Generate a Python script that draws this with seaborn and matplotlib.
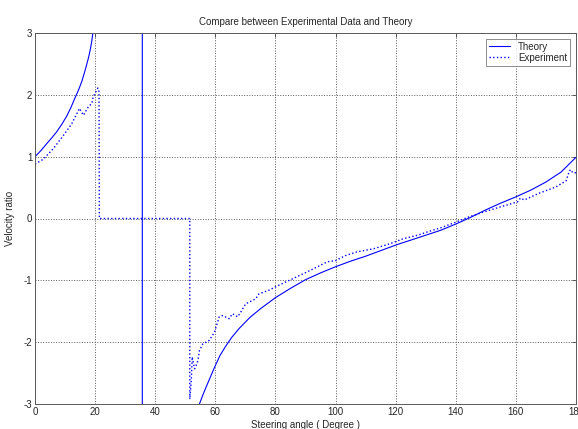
import matplotlib
matplotlib.use("Agg")
import matplotlib.pyplot as plt
import seaborn as sns
import pandas as pd

# Theory curve (passes through a pole near 35.7 degrees)
theory_x = [0, 2, 3.9, 5.5, 7.2, 9, 10.6, 12, 13.3, 14.5, 15.6, 16.4, 17.2, 17.8,
            18.3, 18.8, 19.2, 20.5, 25, 30, 35.7,
            35.7, 45, 50, 54.7, 55.8, 56.9, 58.3, 59.7, 61.5, 63.5, 65.5, 67.9,
            71.5, 75, 80, 85, 90, 95, 100, 105, 110, 115, 120, 125, 130, 135,
            140, 145, 150, 155, 160, 165, 170, 175, 180]
theory_y = [1.0, 1.1, 1.21, 1.30, 1.40, 1.53, 1.66, 1.80, 1.95, 2.08, 2.22, 2.35,
            2.49, 2.60, 2.71, 2.84, 2.98, 3.4, 5, 9, 60,
            -60, -6, -4, -3.0, -2.86, -2.73, -2.57, -2.41, -2.22, -2.06, -1.92,
            -1.78, -1.60, -1.46, -1.28, -1.13, -0.99, -0.88, -0.78, -0.69, -0.61,
            -0.52, -0.43, -0.35, -0.27, -0.19, -0.09, 0.02, 0.14, 0.25, 0.35,
            0.46, 0.59, 0.75, 0.99]

# Experimental data
exp_x = [0, 2.8, 6.1, 9.4, 12.2, 14.8, 16.1, 17.8, 18.9, 19.4, 20.9, 21.3, 21.4,
         51.5, 51.5, 52, 52.3, 53.1, 53.6, 54.2, 54.7, 55.8, 58, 59.7, 61.3, 62.4,
         64.6, 65.7, 67.4, 68.5, 70.1, 73.4, 74.5, 77.8, 81.1, 85.5, 90.7, 94,
         97.3, 100, 103.3, 107.1, 112.6, 118, 122.4, 127.3, 131, 135, 140, 144,
         148.3, 155, 160.6, 161.5, 162.8, 167.8, 173.3, 176.7, 177.8, 178.3,
         178.9, 180]
exp_y = [0.88, 0.96, 1.13, 1.34, 1.53, 1.78, 1.67, 1.81, 1.86, 1.97, 2.11, 2.05,
         0.0, 0.0, -2.92, -2.62, -2.24, -2.43, -2.38, -2.30, -2.14, -2.03, -1.97,
         -1.84, -1.59, -1.57, -1.62, -1.54, -1.59, -1.51, -1.38, -1.30, -1.22,
         -1.16, -1.08, -0.98, -0.86, -0.78, -0.70, -0.68, -0.60, -0.54, -0.49,
         -0.41, -0.33, -0.27, -0.21, -0.15, -0.06, 0.02, 0.09, 0.19, 0.27, 0.33,
         0.30, 0.41, 0.51, 0.61, 0.77, 0.79, 0.74, 0.74]

x_ticks = [0, 20, 40, 60, 80, 100, 120, 140, 160, 180]
y_ticks = [-3, -2, -1, 0, 1, 2, 3]

sns.set_style("white")
plt.rcParams["font.family"] = ["Liberation Sans", "DejaVu Sans"]
plt.rcParams["axes.unicode_minus"] = False

fig = plt.figure(figsize=(5.78, 4.29), dpi=100)
ax = fig.add_axes([35 / 578, 1 - 404 / 429, (576 - 35) / 578, (404 - 33) / 429])

theory = pd.DataFrame({"x": theory_x, "y": theory_y})
exp = pd.DataFrame({"x": exp_x, "y": exp_y})

sns.lineplot(data=theory, x="x", y="y", sort=False, estimator=None, ax=ax,
             color="#0000ff", linewidth=0.8, label="Theory")
sns.lineplot(data=exp, x="x", y="y", sort=False, estimator=None, ax=ax,
             color="#0000ff", linewidth=1.0, linestyle=":", label="Experiment")

ax.set_xlim(0, 180)
ax.set_ylim(-3, 3)
ax.set_xticks(x_ticks)
ax.set_yticks(y_ticks)
ax.grid(True, linestyle=":", color="0.35", linewidth=0.7)
ax.tick_params(direction="in", length=3, labelsize=7, top=True, right=True,
               width=0.6, pad=2, colors="0.25", labelcolor="0.15")
for s in ax.spines.values():
    s.set_visible(True)
    s.set_color("0.35")
    s.set_linewidth(0.7)

ax.set_title("Compare between Experimental Data and Theory", fontsize=7, pad=6)
ax.set_xlabel("Steering angle ( Degree )", fontsize=7, labelpad=2)
ax.set_ylabel("Velocity ratio", fontsize=7, labelpad=6)

leg = ax.legend(loc="upper right", fontsize=7, frameon=True, fancybox=False,
                handlelength=2.2, borderpad=0.3, labelspacing=0.1,
                borderaxespad=0.6)
leg.get_frame().set_edgecolor("0.35")
leg.get_frame().set_linewidth(0.6)

fig.savefig("out.png", dpi=100)
